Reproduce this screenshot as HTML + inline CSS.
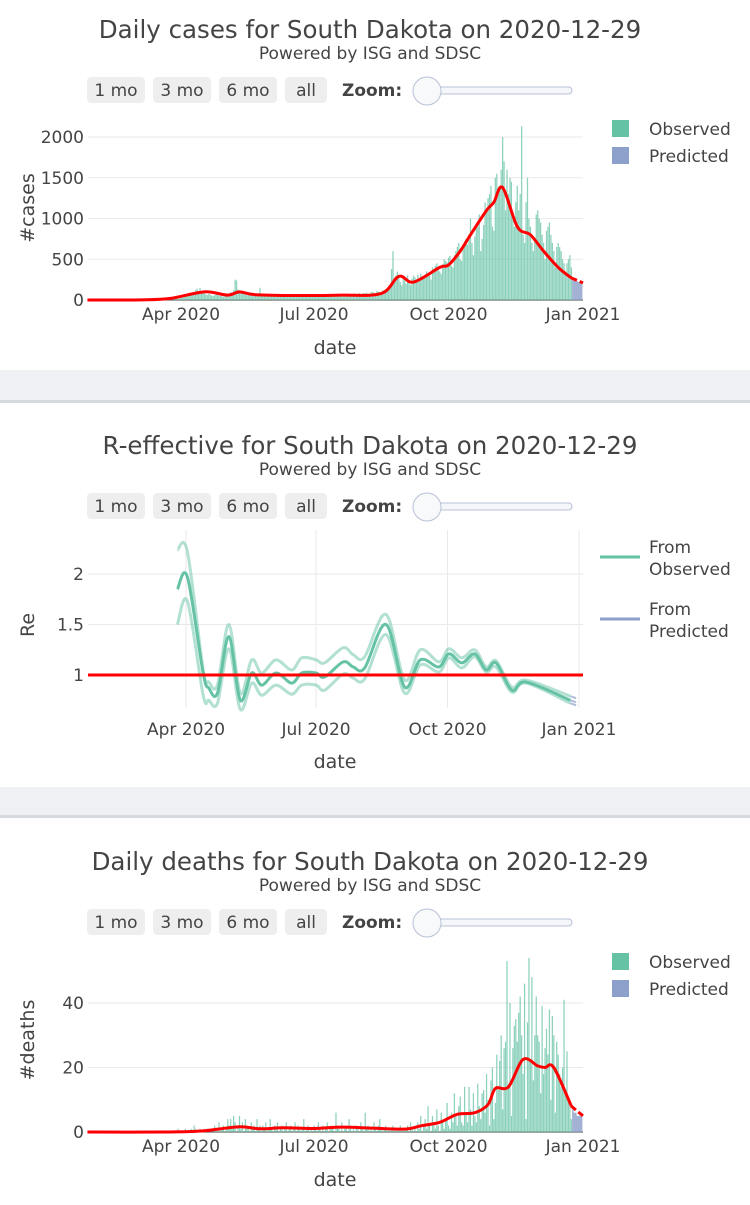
<!DOCTYPE html>
<html><head><meta charset="utf-8"><style>
body{margin:0;background:#fff;width:750px;height:1200px;overflow:hidden;font-family:"Liberation Sans","DejaVu Sans",sans-serif}
svg text{font-family:"DejaVu Sans","Liberation Sans",sans-serif}
</style></head><body>
<svg id="s" width="750" height="1200" xmlns="http://www.w3.org/2000/svg">
<rect x="0" y="370" width="750" height="32" fill="#eef0f3"/>
<rect x="0" y="400" width="750" height="3" fill="#d6dadf"/>
<rect x="0" y="787" width="750" height="30" fill="#eef0f3"/>
<rect x="0" y="815" width="750" height="3" fill="#d6dadf"/>
</svg>
<script>
// ---- data: daily cases (starting 2020-03-10) ----
const casesStart = "2020-03-10";
const casesObserved = [1,2,3,5,4,3,6, 4,3,5,7,8,10,12, 8,12,15,20,25,18,12, 20,30,25,40,45,55,60,
70,80,90,100,120,140,110, 150,100,90,80,70,60,75, 65,55,50,60,80,70,55, 50,60,40,55,60,70,80,
100,90,120,250,240,130,100, 90,80,100,70,60,70,90, 80,60,50,70,65,55,150, 60,70,80,60,55,50,60,
70,65,60,55,60,70,65, 60,55,65,70,60,50,55, 65,70,60,55,50,60,70, 65,60,55,50,60,65,55,
60,55,50,45,60,55,50, 55,60,65,50,45,60,70, 55,60,65,70,60,55,75, 70,60,65,80,75,60,70,
75,80,70,65,85,70,80, 85,80,90,75,70,95,100, 90,80,110,100,95,85,120, 110,130,150,140,160,380,600,
250,300,350,280,220,180,260, 240,200,300,220,180,260,300, 280,250,310,230,320,280,270,
300,350,330,300,250,400,380, 420,450,400,350,320,440,500, 480,460,520,540,420,400,550,
600,650,700,500,480,620,720, 750,680,800,1000,700,550,780, 880,900,1050,600,750,920,1200,
1100,1250,1300,1400,900,850,1500, 1550,1300,1400,1600,2000,1700,1100, 1600,1300,1500,1450,1000,900,1200,
1400,1100,1300,2130,800,700,1200, 1500,1000,900,700,600,750,1050, 1100,1000,950,800,700,500,850,
900,950,800,700,600,400,650, 700,650,600,500,450,350,450, 500,550,400];
const casesPredicted = [260,250,240,230,220,210,200];
const casesSmoothDates = ["2020-01-28","2020-03-05","2020-03-25","2020-04-17","2020-05-03","2020-05-11","2020-05-22","2020-06-20","2020-07-20","2020-08-16","2020-08-28","2020-09-07","2020-09-25","2020-10-01","2020-10-09","2020-10-16","2020-10-27","2020-11-01","2020-11-07","2020-11-17","2020-11-26","2020-12-05","2020-12-15","2020-12-24"];
const casesSmoothValues = [0,2,20,100,60,100,65,55,60,80,290,220,400,430,600,800,1100,1200,1380,900,800,600,400,270];
const casesPredDates = ["2020-12-24","2020-12-28","2021-01-01"];
const casesPredValues = [270,240,210];
const casesTicks = [0,500,1000,1500,2000];

// ---- data: R-effective ----
const reDates = ["2020-03-26","2020-04-02","2020-04-13","2020-04-17","2020-04-23","2020-05-01","2020-05-09","2020-05-17","2020-05-24","2020-06-03","2020-06-14","2020-06-21","2020-07-01","2020-07-07","2020-07-20","2020-07-27","2020-08-04","2020-08-19","2020-09-01","2020-09-12","2020-09-25","2020-10-02","2020-10-11","2020-10-20","2020-10-28","2020-11-04","2020-11-15","2020-11-25","2020-12-26"];
const reMain = [1.85,1.97,1.02,0.87,0.82,1.38,0.75,1.02,0.9,1.02,0.92,1.02,1.02,0.98,1.13,1.08,1.07,1.5,0.88,1.15,1.08,1.21,1.12,1.21,1.05,1.12,0.85,0.93,0.75];
const reUpper = [2.24,2.22,1.05,0.93,0.9,1.5,0.82,1.15,1.02,1.15,1.05,1.17,1.15,1.12,1.27,1.2,1.18,1.6,0.95,1.25,1.13,1.26,1.17,1.25,1.08,1.14,0.88,0.95,0.79];
const reLower = [1.5,1.73,0.8,0.75,0.72,1.26,0.66,0.92,0.8,0.9,0.81,0.9,0.9,0.85,1.01,0.97,0.96,1.4,0.82,1.1,1.03,1.17,1.07,1.18,1.03,1.08,0.83,0.92,0.72];
const rePredDates = ["2020-12-26","2020-12-30"];
const rePredMain = [0.75,0.73];
const rePredUpper = [0.79,0.77];
const rePredLower = [0.72,0.7];
const reTicks = [1,1.5,2];

// ---- data: daily deaths (starting 2020-03-10) ----
const deathsObserved = [0,0,0,0,0,0,0, 0,0,0,0,0,0,0, 0,0,0,0,0,0,1, 0,0,0,0,1,0,0,
0,1,0,2,1,0,0, 1,0,0,1,0,1,0, 0,1,0,2,1,0,3, 0,1,2,0,1,4,2, 4,1,5,3,0,2,5, 1,3,0,4,2,1,0,
3,1,2,0,4,1,2, 0,2,1,3,0,1,4, 1,0,2,1,3,0,1, 2,0,1,3,0,1,2, 0,1,3,0,2,1,0, 1,4,0,1,2,0,1,
0,2,1,0,3,1,0, 2,0,1,3,0,1,2, 1,0,6,2,1,0,3, 0,1,2,0,4,1,0, 1,0,2,1,0,3,1, 0,6,1,2,0,1,0,
3,1,0,2,4,1,0, 1,2,0,1,0,1,2, 0,1,0,1,2,0,1, 0,1,2,0,3,1,0, 2,0,3,1,5,0,2, 4,1,8,2,0,5,3,
1,7,2,0,6,3,1, 4,9,2,1,6,3,12, 5,2,8,11,3,2,14, 6,3,14,7,2,12,5, 3,15,8,4,12,13,6,
18,10,2,16,20,4,9, 24,13,22,30,7,26,28, 53,15,40,5,26,33,35, 28,37,42,30,18,46,4,
34,54,22,48,16,30,42, 30,28,12,39,18,26,32, 24,38,10,36,30,6,28, 24,18,14,20,41,13,25, 10,8,4];
const deathsPredicted = [7,6,6,5,5,5,5];
const deathsSmoothDates = ["2020-01-28","2020-03-20","2020-04-15","2020-05-10","2020-05-25","2020-06-10","2020-07-01","2020-07-20","2020-08-10","2020-09-01","2020-09-13","2020-09-25","2020-10-07","2020-10-19","2020-10-28","2020-11-02","2020-11-11","2020-11-21","2020-12-01","2020-12-06","2020-12-12","2020-12-24"];
const deathsSmoothValues = [0,0,0.3,1.6,1.0,1.3,1.1,1.5,1.2,0.9,2,3,5.5,6,8.5,13.5,14,22.5,20.5,20,20,8];
const deathsPredDates = ["2020-12-24","2021-01-01"];
const deathsPredValues = [8,5];
const deathsTicks = [0,20,40];
const xTickLabels = ["Apr 2020","Jul 2020","Oct 2020","Jan 2021"];
const xTickDates = ["2020-04-01","2020-07-01","2020-10-01","2021-01-01"];

const NS="http://www.w3.org/2000/svg";
const svg=document.getElementById('s');
function mk(tag,attrs,parent){const e=document.createElementNS(NS,tag);for(const k in attrs)e.setAttribute(k,attrs[k]);(parent||svg).appendChild(e);return e;}
function day(s){const p=s.split('-');return (Date.UTC(+p[0],+p[1]-1,+p[2])-Date.UTC(2020,3,1))/864e5;}
function xA(d){return 181+d*1.462;}
function xB(d){return 186+d*1.429;}
function smooth(pts){let d='M'+pts[0][0]+','+pts[0][1];for(let i=0;i<pts.length-1;i++){const p0=pts[i-1]||pts[i],p1=pts[i],p2=pts[i+1],p3=pts[i+2]||p2;const c1=[p1[0]+(p2[0]-p0[0])/6,p1[1]+(p2[1]-p0[1])/6],c2=[p2[0]-(p3[0]-p1[0])/6,p2[1]-(p3[1]-p1[1])/6];d+=`C${c1[0]},${c1[1]} ${c2[0]},${c2[1]} ${p2[0]},${p2[1]}`;}return d;}

function header(y0,title){
  const t=mk('text',{x:370,y:y0+38,'text-anchor':'middle','font-size':24.5,fill:'#444'});t.textContent=title;
  
  
  const st=mk('text',{x:370,y:y0+59,'text-anchor':'middle','font-size':17,fill:'#444'});st.textContent='Powered by ISG and SDSC';
  
  
  const btns=[["1 mo",87,58],["3 mo",153,58],["6 mo",219,58],["all",285,42]];
  btns.forEach(b=>{const g=mk('g',{});
    
    
    mk('rect',{x:b[1],y:y0+77,width:b[2],height:26,rx:4,fill:'#eeeeee'},g);
    const tx=mk('text',{x:b[1]+b[2]/2,y:y0+96,'text-anchor':'middle','font-size':17,fill:'#444'},g);tx.textContent=b[0];});
  const z=mk('text',{x:342,y:y0+96,'font-size':17,'font-weight':'bold',fill:'#444'});z.textContent='Zoom:';
  
  
  const tr=mk('rect',{x:427,y:y0+87,width:145,height:7,rx:3.5,fill:'#f4f6fa',stroke:'#b8c2d6'});
  
  
  const kn=mk('circle',{cx:427,cy:y0+91,r:14,fill:'#f8f9fb',stroke:'#b8c2d6'});
  
  
}
function legendBox(y,label,color,name){const g=mk('g',{});
  
  
  mk('rect',{x:612,y:y-9,width:17,height:17,fill:color},g);
  const t=mk('text',{x:649,y:y+6,'font-size':17,fill:'#444'},g);t.textContent=label;}
function xAxis(fx,yLab,yTitle){
  xTickDates.forEach((d,i)=>{const t=mk('text',{x:fx(day(d)),y:yLab,'text-anchor':'middle','font-size':17,fill:'#444'});t.textContent=xTickLabels[i];
    
    });
  const t=mk('text',{x:335,y:yTitle,'text-anchor':'middle','font-size':19,fill:'#444'});t.textContent='date';
  
  
}
function yTitle(txt,cy){const t=mk('text',{x:0,y:0,transform:`translate(34,${cy}) rotate(-90)`,'text-anchor':'middle','font-size':19,fill:'#444'});t.textContent=txt;
  
  }

function barChart(y0px,scale,ticks,obs,pred,sD,sV,pD,pV,name){
  const yv=v=>y0px-v*scale;
  ticks.forEach(v=>{const l=mk('line',{x1:88,x2:583,y1:yv(v),y2:yv(v),stroke:v===0?'#444':'#eaeaea','stroke-width':1});
    
    
    const t=mk('text',{x:84,y:yv(v)+6,'text-anchor':'end','font-size':17,fill:'#444'});t.textContent=String(v);
    
    });
  const d0=day(casesStart);const w=1.462*0.85;
  obs.forEach((v,i)=>{const x=xA(d0+i);const r=mk('rect',{x:x-w/2,y:yv(v),width:w,height:v*scale,fill:'#66c2a5','fill-opacity':0.75});
    
    });
  pred.forEach((v,i)=>{const x=xA(d0+obs.length+i);const r=mk('rect',{x:x-0.75,y:yv(v),width:1.6,height:v*scale,fill:'#8da0cb','fill-opacity':0.8});
    
    });
  const p=mk('path',{d:smooth(sD.map((d,i)=>[xA(day(d)),yv(sV[i])])),fill:'none',stroke:'#ff0000','stroke-width':3});
  
  
  const p2=mk('path',{d:smooth(pD.map((d,i)=>[xA(day(d)),yv(pV[i])])),fill:'none',stroke:'#ff0000','stroke-width':3,'stroke-dasharray':'6,3'});
  
  
}

// Chart 1
header(0,'Daily cases for South Dakota on 2020-12-29');
barChart(300,163/2000,casesTicks,casesObserved,casesPredicted,casesSmoothDates,casesSmoothValues,casesPredDates,casesPredValues,'cases');
xAxis(xA,320,354);yTitle('#cases',208);
legendBox(129,'Observed','#66c2a5','legend-observed');legendBox(156,'Predicted','#8da0cb','legend-predicted');

// Chart 2
header(416,'R-effective for South Dakota on 2020-12-29');
const yR=v=>675-(v-1)*101;
xTickDates.forEach(d=>{const l=mk('line',{x1:xB(day(d)),x2:xB(day(d)),y1:530,y2:708,stroke:'#eaeaea'});
  
  });
reTicks.forEach(v=>{const l=mk('line',{x1:88,x2:583,y1:yR(v),y2:yR(v),stroke:'#eaeaea'});
  
  
  const t=mk('text',{x:84,y:yR(v)+6,'text-anchor':'end','font-size':17,fill:'#444'});t.textContent=String(v);
  
  });
[[reUpper,'re-upper-bound'],[reLower,'re-lower-bound']].forEach(a=>{const p=mk('path',{d:smooth(reDates.map((d,i)=>[xB(day(d)),yR(a[0][i])])),fill:'none',stroke:'#66c2a5','stroke-opacity':0.5,'stroke-width':3});
  
  });
const pm=mk('path',{d:smooth(reDates.map((d,i)=>[xB(day(d)),yR(reMain[i])])),fill:'none',stroke:'#66c2a5','stroke-width':3});


[rePredUpper,rePredMain,rePredLower].forEach(a=>{const p=mk('path',{d:smooth(rePredDates.map((d,i)=>[xB(day(d)),yR(a[i])])),fill:'none',stroke:'#8da0cb','stroke-opacity':0.7,'stroke-width':2});
  
  });
const rl=mk('line',{x1:88,x2:583,y1:yR(1),y2:yR(1),stroke:'#ff0000','stroke-width':3});


xAxis(xB,735,768);yTitle('Re',625);
[[557,'From','Observed','#66c2a5','legend-from-observed'],[619,'From','Predicted','#8da0cb','legend-from-predicted']].forEach(l=>{const g=mk('g',{});
  
  
  mk('line',{x1:600,x2:640,y1:l[0],y2:l[0],stroke:l[3],'stroke-width':3},g);
  const a=mk('text',{x:649,y:l[0]-4,'font-size':17,fill:'#444'},g);a.textContent=l[1];
  const b=mk('text',{x:649,y:l[0]+18,'font-size':17,fill:'#444'},g);b.textContent=l[2];});

// Chart 3
header(832,'Daily deaths for South Dakota on 2020-12-29');
barChart(1132,64.5/20,deathsTicks,deathsObserved,deathsPredicted,deathsSmoothDates,deathsSmoothValues,deathsPredDates,deathsPredValues,'deaths');
xAxis(xA,1152,1186);yTitle('#deaths',1040);
legendBox(962,'Observed','#66c2a5','legend-observed');legendBox(989,'Predicted','#8da0cb','legend-predicted');
</script>
</body></html>
